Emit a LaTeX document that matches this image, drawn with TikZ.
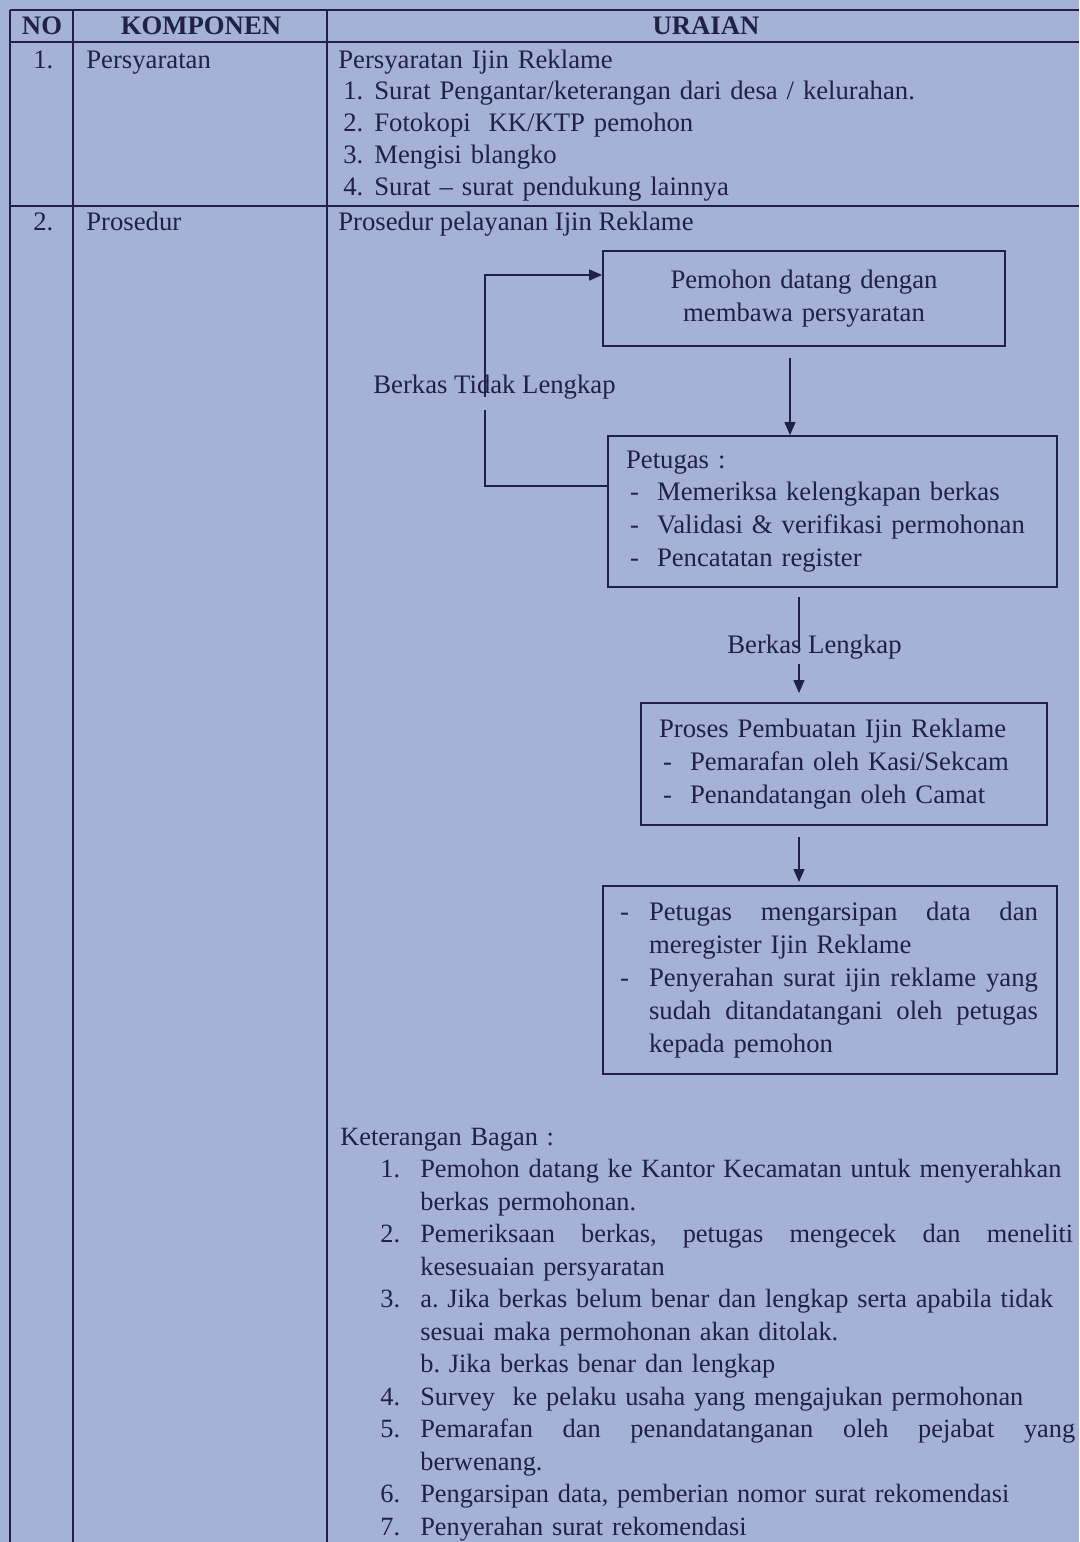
\documentclass[tikz,border=0pt]{standalone}
\usepackage{fontspec}
\setmainfont{Liberation Serif}
\usepackage{xcolor}
\usetikzlibrary{arrows.meta,positioning,calc}

\definecolor{paper}{RGB}{165,177,214}
\definecolor{ink}{RGB}{30,34,70}

\newcommand{\itm}[1]{\hspace*{0.08cm}\makebox[0.54cm][l]{-}#1}
\newcommand{\jline}[2]{\hbox to #1{#2}}

\begin{document}
\frenchspacing
\begin{tikzpicture}[
    x=0.02cm, y=-0.02cm,
    >={Triangle[length=0.26cm,width=0.22cm]},
    txt/.style={inner sep=0, anchor=base west, text=ink, font=\fontsize{15.2}{18.2}\selectfont, align=left},
    head/.style={inner sep=0, text=ink, font=\fontsize{15.2}{18.2}\selectfont\bfseries},
    box/.style={rectangle, draw=ink, line width=1pt, text=ink, align=left, inner xsep=0.36cm, inner ysep=0, font=\fontsize{15.2}{18.7}\selectfont},
    grid/.style={draw=ink, line width=1pt},
    flow/.style={draw=ink, line width=0.8pt}
]

\fill[paper] (0,0) rectangle (1079,1542);
\useasboundingbox (0,0) rectangle (1079,1542);

% table
\draw[grid] (10,10) -- (1079,10);
\draw[grid] (10,42) -- (1079,42);
\draw[grid] (10,206) -- (1079,206);
\foreach \cx in {10,73,327}
    \draw[grid] (\cx,10) -- (\cx,1542);

\node[head] (hno) at (42,26) {NO};
\node[head] (hkomp) at (201,26) {KOMPONEN};
\node[head] (hurai) at (706,26) {URAIAN};

% row 1
\node[txt] (no1) at (33,68) {1.};
\node[txt] (komp1) at (86,68) {Persyaratan};
\node[txt, text width=14cm] (syarat) at (338,68) {Persyaratan Ijin Reklame\\
    \hspace*{0.1cm}\makebox[0.62cm][l]{1.}Surat Pengantar/keterangan dari desa / kelurahan.\\
    \hspace*{0.1cm}\makebox[0.62cm][l]{2.}Fotokopi\ \ KK/KTP pemohon\\
    \hspace*{0.1cm}\makebox[0.62cm][l]{3.}Mengisi blangko\\
    \hspace*{0.1cm}\makebox[0.62cm][l]{4.}Surat -- surat pendukung lainnya};

% row 2
\node[txt] (no2) at (33,230) {2.};
\node[txt] (komp2) at (86,230) {Prosedur};
\node[txt] (prosedur) at (338,230) {Prosedur pelayanan Ijin Reklame};

% flow chart
\node[box, align=center, text width=7.32cm, minimum height=1.9cm] (datang) at (804,298.5) {Pemohon datang dengan\\membawa persyaratan};
\node[box, text width=8.26cm, minimum height=3.02cm] (periksa) at (832.5,511.5) {Petugas :\\
    \itm{Memeriksa kelengkapan berkas}\\
    \itm{Validasi \& verifikasi permohonan}\\
    \itm{Pencatatan register}};
\node[box, text width=7.4cm, minimum height=2.44cm] (proses) at (844,764) {Proses Pembuatan Ijin Reklame\\
    \itm{Pemarafan oleh Kasi/Sekcam}\\
    \itm{Penandatangan oleh Camat}};
\node[box, inner xsep=0.34cm, text width=8.4cm, minimum height=3.76cm] (arsip) at (830,980) {%
    \makebox[0.58cm][l]{-}\jline{7.78cm}{Petugas \hfill mengarsipan \hfill data \hfill dan}\\
    \hspace*{0.58cm}meregister Ijin Reklame\\
    \makebox[0.58cm][l]{-}\jline{7.78cm}{Penyerahan \hfill surat \hfill ijin \hfill reklame \hfill yang}\\
    \hspace*{0.58cm}\jline{7.78cm}{sudah \hfill ditandatangani \hfill oleh \hfill petugas}\\
    \hspace*{0.58cm}kepada pemohon};

\node[txt] (tidak) at (373,393) {Berkas Tidak Lengkap};
\node[txt] (lengkap) at (727,653) {Berkas Lengkap};

\coordinate (a1) at (790,358);
\coordinate (b1) at (799,597);
\coordinate (b2) at (799,648);
\coordinate (b3) at (799,664);
\coordinate (b4) at (799,693);
\coordinate (c1) at (799,837);
\coordinate (c2) at (799,882);
\coordinate (loopLow) at (485,486);
\coordinate (gapLow) at (485,410);
\coordinate (gapHigh) at (485,397);
\coordinate (loopTop) at (485,275);

\draw[flow, ->] (a1) -- (a1 |- periksa.north);
\draw[flow] (b1) -- (b2);
\draw[flow, ->] (b3) -- (b4);
\draw[flow, ->] (c1) -- (c2);
\draw[flow] (periksa.west |- loopLow) -- (loopLow) -- (gapLow);
\draw[flow, ->] (gapHigh) -- (loopTop) -- (loopTop -| datang.west);

% keterangan
\node[txt, text width=14.74cm, font=\fontsize{15}{18.5}\selectfont] (ket) at (340,1145) {Keterangan Bagan :\\
    \hspace*{0.8cm}\makebox[0.8cm][l]{1.}Pemohon datang ke Kantor Kecamatan untuk menyerahkan\\
    \hspace*{1.6cm}berkas permohonan.\\
    \hspace*{0.8cm}\makebox[0.8cm][l]{2.}\jline{13.06cm}{Pemeriksaan \hfill berkas, \hfill petugas \hfill mengecek \hfill dan \hfill meneliti}\\
    \hspace*{1.6cm}kesesuaian persyaratan\\
    \hspace*{0.8cm}\makebox[0.8cm][l]{3.}a. Jika berkas belum benar dan lengkap serta apabila tidak\\
    \hspace*{1.6cm}sesuai maka permohonan akan ditolak.\\
    \hspace*{1.6cm}b. Jika berkas benar dan lengkap\\
    \hspace*{0.8cm}\makebox[0.8cm][l]{4.}Survey\ \ ke pelaku usaha yang mengajukan permohonan\\
    \hspace*{0.8cm}\makebox[0.8cm][l]{5.}\jline{13.1cm}{Pemarafan \hfill dan \hfill penandatanganan \hfill oleh \hfill pejabat \hfill yang}\\
    \hspace*{1.6cm}berwenang.\\
    \hspace*{0.8cm}\makebox[0.8cm][l]{6.}Pengarsipan data, pemberian nomor surat rekomendasi\\
    \hspace*{0.8cm}\makebox[0.8cm][l]{7.}Penyerahan surat rekomendasi};

\end{tikzpicture}
\end{document}
